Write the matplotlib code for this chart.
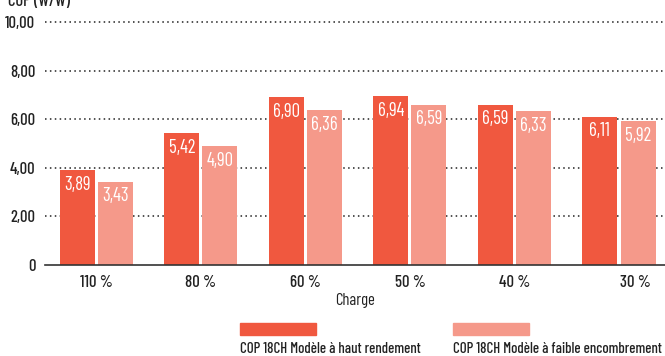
import matplotlib
matplotlib.use("Agg")
import matplotlib.pyplot as plt
from matplotlib.patches import Rectangle
import matplotlib.transforms as mtransforms
import numpy as np

categories = ["110 %", "80 %", "60 %", "50 %", "40 %", "30 %"]
haut_rendement = [3.89, 5.42, 6.90, 6.94, 6.59, 6.11]
faible_encombrement = [3.43, 4.90, 6.36, 6.59, 6.33, 5.92]
series_names = ["COP 18CH Modèle à haut rendement", "COP 18CH Modèle à faible encombrement"]
yticks = [0, 2, 4, 6, 8, 10]
ytick_labels = ["0", "2,00", "4,00", "6,00", "8,00", "10,00"]

c_dark = "#F0583F"
c_light = "#F5998A"
txt_c = "#222222"
FS = 12

plt.rcParams['font.family'] = ['Barlow Condensed', 'DejaVu Sans']
plt.rcParams['font.weight'] = 500

W, H = 665, 356
fig = plt.figure(figsize=(W/100, H/100), dpi=100)
ax = fig.add_axes([45/W, 1-265/H, 1-45/W, (265-22)/H])

x = np.arange(len(categories))
bw = 0.335
gap = 0.015
b1 = ax.bar(x - bw/2 - gap, haut_rendement, bw, color=c_dark, zorder=3)
b2 = ax.bar(x + bw/2 + gap, faible_encombrement, bw, color=c_light, zorder=3)

for bars, vals in ((b1, haut_rendement), (b2, faible_encombrement)):
    for b, v in zip(bars, vals):
        ax.annotate(f"{v:.2f}".replace(".", ","), (b.get_x() + b.get_width()/2, v),
                    xytext=(0, -10.5), textcoords="offset points", ha="center", va="center",
                    color="white", fontsize=13.5, fontweight=400, zorder=5)

ax.set_xlim(-0.49, 5.44)
ax.set_ylim(0, 10)
ax.set_yticks(yticks)
ax.set_yticklabels(ytick_labels, fontsize=FS, color=txt_c)
ax.set_xticks(x)
ax.set_xticklabels(categories, fontsize=FS, color=txt_c)
ax.tick_params(axis="both", length=0)
ax.tick_params(axis="y", pad=7)
ax.tick_params(axis="x", pad=7)
# last category label sits further right in the reference
lbl = ax.get_xticklabels()[-1]
lbl.set_transform(lbl.get_transform() + mtransforms.ScaledTranslation(16/100, 0, fig.dpi_scale_trans))
for s in ("top", "right", "left"):
    ax.spines[s].set_visible(False)
ax.spines["bottom"].set_color("#333333")
ax.spines["bottom"].set_linewidth(1.2)
ax.spines["bottom"].set_zorder(4)
for yv in yticks[1:]:
    ax.axhline(yv, color="#222222", linestyle=(0, (1, 2.2)), linewidth=1.1, zorder=1, clip_on=False)
ax.set_xlabel("Charge", fontsize=FS, color=txt_c, labelpad=2)

fig.text(8/W, 1-1/H, "COP (W/W)", fontsize=FS, color=txt_c, va="center", ha="left")

# legend
for i, (name, col) in enumerate(zip(series_names, [c_dark, c_light])):
    x0 = [240, 453][i]
    fig.patches.append(Rectangle((x0/W, 1-335/H), 76/W, 12/H, transform=fig.transFigure,
                                 color=col, figure=fig))
    fig.text(x0/W, 1-349/H, name, fontsize=10.7, color=txt_c, va="center", ha="left")

fig.savefig("out.png", dpi=100)
